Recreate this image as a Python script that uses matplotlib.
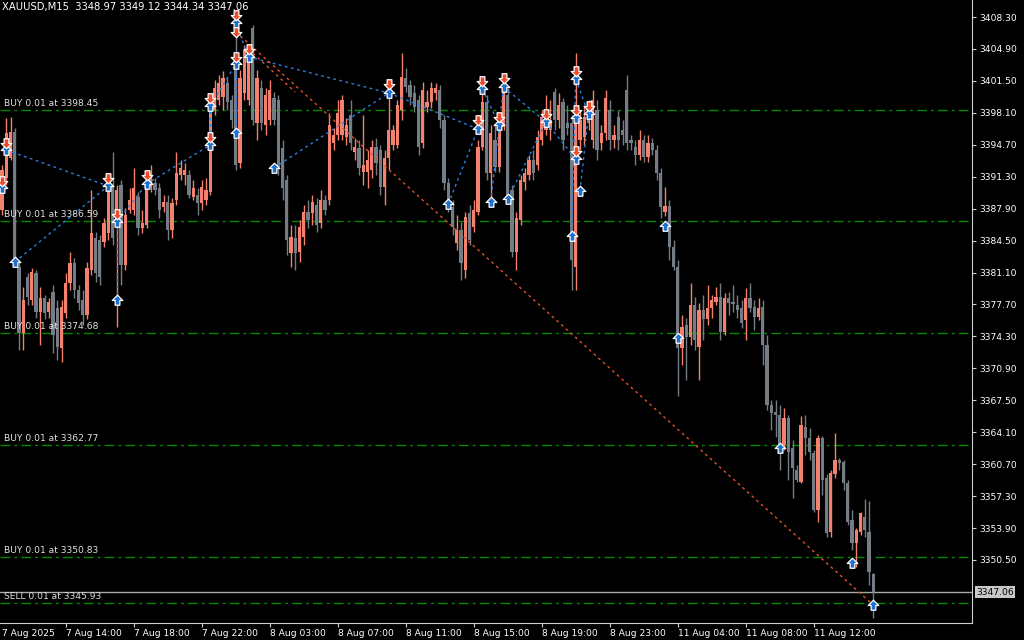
import numpy as np
import matplotlib.pyplot as plt
from matplotlib.path import Path

# XAUUSD M15 bars (open, high, low, close)
opens = [3387.8, 3391.2, 3393.3, 3396.1, 3381.7, 3374.7, 3380.6, 3378.2, 3381.0, 3376.9,
         3378.4, 3376.9, 3379.0, 3377.3, 3373.1, 3376.8, 3380.0, 3382.1, 3379.2, 3378.2,
         3376.6, 3381.4, 3384.8, 3384.6, 3384.4, 3385.3, 3390.4, 3386.4, 3390.4, 3381.9,
         3387.8, 3387.8, 3389.1, 3385.8, 3386.2, 3390.2, 3390.6, 3390.1, 3388.1, 3388.6,
         3385.6, 3388.8, 3391.5, 3391.5, 3391.5, 3389.1, 3389.4, 3388.5, 3388.8, 3389.7,
         3398.4, 3399.5, 3399.8, 3401.3, 3399.5, 3402.7, 3392.8, 3400.2, 3399.5, 3407.1,
         3397.0, 3400.7, 3396.8, 3397.3, 3399.7, 3399.5, 3394.4, 3391.0, 3383.2, 3384.8,
         3383.3, 3384.9, 3387.5, 3387.4, 3388.3, 3386.4, 3388.8, 3388.8, 3394.9, 3395.7,
         3395.7, 3395.5, 3397.9, 3393.9, 3394.4, 3391.8, 3391.8, 3392.0, 3394.5, 3394.1,
         3390.2, 3393.3, 3394.7, 3394.7, 3398.4, 3401.8, 3401.1, 3400.2, 3399.5, 3394.9,
         3398.7, 3399.2, 3400.2, 3400.5, 3397.3, 3390.6, 3388.1, 3384.2, 3385.6, 3381.4,
         3387.4, 3385.9, 3387.5, 3394.5, 3399.3, 3391.7, 3395.2, 3392.3, 3396.6, 3400.0,
         3389.9, 3383.3, 3386.7, 3390.7, 3391.5, 3393.1, 3392.5, 3395.2, 3396.3, 3396.3,
         3400.3, 3397.3, 3399.2, 3397.0, 3397.0, 3381.7, 3395.2, 3395.5, 3397.0, 3395.2,
         3398.4, 3394.9, 3395.9, 3398.4, 3395.2, 3397.7, 3396.3, 3400.5, 3395.2, 3394.5,
         3393.6, 3395.2, 3393.4, 3394.9, 3394.1, 3391.7, 3387.5, 3388.2, 3383.8, 3381.7,
         3373.1, 3375.5, 3374.2, 3377.6, 3373.2, 3377.1, 3376.1, 3377.3, 3378.0, 3378.5,
         3374.8, 3378.4, 3378.0, 3377.6, 3377.3, 3376.0, 3378.4, 3377.4, 3376.4, 3377.4,
         3373.4, 3367.0, 3366.3, 3365.9, 3362.7, 3365.6, 3362.4, 3360.1, 3358.8, 3364.7,
         3363.5, 3361.9, 3355.8, 3363.5, 3359.2, 3353.5, 3359.6, 3361.1, 3360.9, 3358.7,
         3354.8, 3352.3, 3353.5, 3355.1, 3353.5, 3348.97]
highs = [3392.5, 3397.5, 3397.7, 3396.5, 3382.2, 3379.6, 3381.0, 3381.6, 3381.4, 3379.6,
         3378.7, 3378.4, 3379.8, 3378.2, 3378.2, 3381.0, 3383.3, 3382.6, 3379.8, 3379.2,
         3382.2, 3389.9, 3385.4, 3385.1, 3386.9, 3390.6, 3393.9, 3390.4, 3391.0, 3388.0,
         3390.1, 3392.2, 3389.7, 3387.8, 3391.8, 3392.5, 3391.2, 3390.6, 3389.4, 3389.4,
         3389.0, 3393.9, 3393.1, 3392.8, 3392.0, 3391.0, 3390.1, 3391.0, 3391.2, 3400.0,
         3401.6, 3402.1, 3402.5, 3401.8, 3400.0, 3408.8, 3402.7, 3405.3, 3405.3, 3407.5,
         3402.7, 3401.6, 3400.7, 3401.6, 3400.3, 3400.0, 3395.2, 3391.5, 3386.2, 3386.2,
         3386.7, 3388.3, 3388.8, 3389.4, 3389.0, 3389.9, 3389.4, 3398.1, 3396.5, 3399.5,
         3400.0, 3397.6, 3399.5, 3395.4, 3395.2, 3397.9, 3394.1, 3395.2, 3395.4, 3394.7,
         3394.1, 3400.5, 3396.8, 3399.5, 3404.5, 3402.9, 3401.6, 3401.1, 3400.0, 3401.4,
         3400.5, 3401.4, 3401.3, 3401.1, 3397.9, 3391.2, 3388.8, 3387.2, 3386.5, 3387.5,
         3388.3, 3388.8, 3395.2, 3401.9, 3400.0, 3396.8, 3396.8, 3397.9, 3401.9, 3400.7,
         3390.4, 3387.5, 3391.5, 3392.2, 3393.6, 3394.1, 3396.3, 3398.4, 3400.0, 3399.5,
         3400.7, 3400.2, 3399.7, 3398.9, 3397.9, 3404.5, 3398.4, 3398.9, 3399.5, 3400.5,
         3399.5, 3396.8, 3400.5, 3399.5, 3396.8, 3398.4, 3397.3, 3402.1, 3395.7, 3395.2,
         3396.3, 3395.7, 3395.7, 3395.4, 3394.7, 3392.2, 3390.2, 3388.8, 3384.6, 3382.4,
         3376.6, 3376.3, 3380.0, 3378.5, 3377.9, 3378.7, 3379.8, 3378.7, 3379.6, 3380.0,
         3378.9, 3379.0, 3379.8, 3378.7, 3378.2, 3379.4, 3380.0, 3378.2, 3378.4, 3378.2,
         3374.5, 3367.5, 3367.5, 3367.0, 3366.7, 3365.9, 3363.3, 3360.6, 3365.8, 3365.9,
         3364.5, 3362.2, 3363.8, 3363.7, 3359.6, 3360.1, 3364.0, 3361.4, 3361.1, 3359.0,
         3355.8, 3353.9, 3355.6, 3357.0, 3356.8, 3349.12]
lows = [3387.2, 3390.4, 3393.1, 3381.9, 3372.9, 3372.9, 3377.6, 3377.6, 3376.3, 3373.4,
        3376.1, 3376.3, 3372.5, 3371.8, 3371.6, 3376.3, 3379.2, 3378.4, 3377.1, 3375.5,
        3376.1, 3380.8, 3380.1, 3379.8, 3383.8, 3384.6, 3384.0, 3375.3, 3379.8, 3381.4,
        3387.4, 3387.2, 3385.1, 3385.3, 3385.8, 3389.7, 3389.4, 3386.9, 3387.5, 3384.6,
        3384.8, 3388.3, 3391.0, 3390.4, 3389.0, 3388.8, 3387.2, 3387.8, 3388.3, 3389.4,
        3397.9, 3398.9, 3398.4, 3398.4, 3396.5, 3392.0, 3392.2, 3399.5, 3398.9, 3396.8,
        3395.2, 3396.3, 3395.7, 3396.8, 3396.8, 3391.5, 3388.8, 3383.0, 3381.7, 3381.4,
        3382.2, 3384.0, 3385.8, 3386.2, 3385.4, 3385.8, 3387.2, 3388.3, 3394.1, 3395.2,
        3395.2, 3394.7, 3394.1, 3393.1, 3391.5, 3390.4, 3390.1, 3391.2, 3391.5, 3389.4,
        3388.3, 3392.0, 3394.1, 3394.4, 3397.3, 3400.3, 3398.9, 3398.2, 3393.6, 3394.4,
        3398.2, 3398.6, 3399.5, 3396.5, 3389.9, 3387.5, 3385.1, 3383.5, 3380.3, 3380.5,
        3384.0, 3385.4, 3387.2, 3394.1, 3390.9, 3388.5, 3391.8, 3391.8, 3396.3, 3388.8,
        3382.7, 3381.4, 3386.2, 3389.9, 3391.0, 3391.0, 3392.0, 3394.7, 3395.7, 3395.2,
        3396.3, 3396.5, 3394.1, 3395.7, 3379.2, 3379.2, 3394.1, 3394.7, 3396.3, 3394.4,
        3393.1, 3394.1, 3395.2, 3394.1, 3394.4, 3394.1, 3394.7, 3394.1, 3394.1, 3392.5,
        3393.1, 3392.9, 3392.9, 3393.6, 3390.9, 3386.9, 3387.1, 3382.4, 3381.4, 3368.0,
        3371.3, 3369.7, 3373.4, 3372.9, 3369.7, 3373.9, 3375.5, 3376.3, 3377.6, 3373.9,
        3374.5, 3376.6, 3376.9, 3376.3, 3375.2, 3373.9, 3376.9, 3375.0, 3376.0, 3371.3,
        3366.5, 3364.3, 3363.6, 3360.1, 3362.2, 3359.0, 3357.1, 3358.8, 3358.7, 3361.7,
        3361.1, 3355.6, 3354.5, 3357.4, 3352.9, 3352.9, 3359.2, 3360.1, 3357.9, 3354.2,
        3351.6, 3349.7, 3353.2, 3352.9, 3347.8, 3344.34]
closes = [3392.0, 3395.9, 3396.1, 3382.4, 3374.7, 3378.2, 3378.5, 3381.2, 3376.9, 3378.4,
          3376.8, 3378.0, 3374.5, 3373.2, 3377.4, 3380.0, 3382.1, 3379.2, 3377.9, 3376.6,
          3381.6, 3385.3, 3381.0, 3380.6, 3386.4, 3390.4, 3384.8, 3389.9, 3381.9, 3387.2,
          3388.8, 3390.1, 3385.8, 3386.4, 3390.7, 3391.8, 3389.9, 3387.8, 3388.6, 3385.6,
          3388.5, 3391.7, 3392.2, 3392.0, 3389.4, 3390.1, 3388.5, 3390.2, 3389.9, 3399.5,
          3400.7, 3401.3, 3401.8, 3399.2, 3397.3, 3392.5, 3401.8, 3404.8, 3405.0, 3397.3,
          3401.8, 3397.0, 3400.0, 3400.5, 3397.3, 3392.3, 3390.1, 3384.6, 3384.9, 3383.2,
          3385.9, 3387.5, 3386.7, 3388.6, 3386.2, 3388.8, 3387.8, 3396.8, 3395.7, 3398.1,
          3399.5, 3396.8, 3394.9, 3394.5, 3392.2, 3392.5, 3393.1, 3394.5, 3392.8, 3390.2,
          3393.3, 3396.3, 3396.3, 3398.9, 3401.9, 3400.9, 3399.8, 3398.7, 3394.5, 3400.5,
          3399.3, 3400.7, 3400.7, 3397.3, 3390.6, 3388.1, 3385.9, 3385.6, 3382.1, 3387.0,
          3384.6, 3387.8, 3394.5, 3399.3, 3391.7, 3396.0, 3392.3, 3396.6, 3400.5, 3389.1,
          3383.3, 3386.9, 3391.0, 3391.7, 3393.1, 3391.7, 3395.5, 3397.7, 3397.0, 3397.3,
          3397.3, 3398.9, 3395.2, 3396.5, 3382.4, 3397.3, 3397.3, 3397.7, 3398.7, 3399.5,
          3394.1, 3395.9, 3399.7, 3395.2, 3395.7, 3395.2, 3395.7, 3394.9, 3394.9, 3393.6,
          3395.2, 3393.4, 3394.9, 3394.1, 3391.7, 3388.1, 3388.2, 3383.8, 3381.7, 3373.1,
          3375.3, 3374.2, 3377.6, 3373.9, 3377.1, 3376.1, 3377.3, 3378.2, 3378.5, 3374.8,
          3378.4, 3377.9, 3377.7, 3377.1, 3375.7, 3378.4, 3377.3, 3376.4, 3377.3, 3373.4,
          3367.0, 3366.1, 3365.9, 3362.7, 3365.6, 3362.0, 3360.3, 3359.0, 3364.9, 3363.5,
          3362.0, 3355.8, 3363.5, 3359.0, 3353.4, 3359.8, 3361.1, 3360.8, 3358.7, 3354.5,
          3352.3, 3353.7, 3355.5, 3353.7, 3349.2, 3347.06]

# trade arrows (bar index, price)
buy_idx = [0, 1, 3, 25, 27, 27, 34, 49, 49, 55, 55, 55, 58, 64, 91, 105, 112, 113, 115,
           117, 118, 119, 128, 134, 135, 135, 135, 136, 138, 156, 159, 183, 200, 205]
buy_px = [3390.10, 3394.14, 3382.22, 3390.31, 3386.48, 3378.18, 3390.52, 3398.83, 3394.68,
          3407.66, 3403.30, 3395.95, 3404.04, 3392.23, 3400.21, 3388.39, 3396.38, 3400.64,
          3388.61, 3396.80, 3400.85, 3388.93, 3397.12, 3384.99, 3401.70, 3397.55, 3393.18,
          3389.78, 3397.97, 3386.05, 3374.13, 3362.42, 3350.18, 3345.71]
sell_idx = [0, 1, 25, 27, 34, 49, 49, 55, 55, 55, 58, 91, 112, 113, 117, 118, 128, 135,
            135, 135, 138]
sell_px = [3390.84, 3394.89, 3391.16, 3387.33, 3391.48, 3399.68, 3395.53, 3408.51, 3406.70,
           3404.04, 3404.89, 3401.17, 3397.34, 3401.49, 3397.66, 3401.81, 3397.97, 3402.55,
           3398.40, 3394.04, 3398.83]

# dotted links between deals: (i1, p1, i2, p2)
blue_links = [(1, 3394.14, 25, 3390.31), (3, 3382.22, 25, 3390.31),
              (27, 3378.18, 27, 3386.48), (27, 3386.48, 34, 3390.52),
              (34, 3390.52, 49, 3394.68), (49, 3394.68, 49, 3398.83),
              (49, 3398.83, 55, 3403.30), (55, 3403.30, 55, 3395.95),
              (55, 3407.66, 58, 3404.04), (58, 3404.04, 91, 3400.21),
              (64, 3392.23, 91, 3400.21), (91, 3400.21, 112, 3396.38),
              (105, 3388.39, 112, 3396.38), (113, 3400.64, 117, 3396.80),
              (115, 3388.61, 118, 3400.85), (118, 3400.85, 128, 3397.12),
              (119, 3388.93, 128, 3397.12), (128, 3397.12, 135, 3393.18),
              (134, 3384.99, 135, 3401.70), (135, 3401.70, 138, 3397.97),
              (136, 3389.78, 138, 3397.97)]
red_links = [(55, 3406.70, 205, 3345.71), (58, 3404.89, 69, 3400.3)]

order_sides = ['BUY', 'BUY', 'BUY', 'BUY', 'BUY', 'SELL']
order_prices = [3398.45, 3386.59, 3374.68, 3362.77, 3350.83, 3345.93]
last_price = 3347.06

price_ticks = [3408.30, 3404.90, 3401.50, 3398.10, 3394.70, 3391.30, 3387.90, 3384.50, 3381.10,
               3377.70, 3374.30, 3370.90, 3367.50, 3364.10, 3360.70, 3357.30, 3353.90, 3350.50]
time_idx = [15, 31, 47, 63, 79, 95, 111, 127, 143, 159, 175, 191]
time_labels = ['7 Aug 14:00', '7 Aug 18:00', '7 Aug 22:00', '8 Aug 03:00', '8 Aug 07:00',
               '8 Aug 11:00', '8 Aug 15:00', '8 Aug 19:00', '8 Aug 23:00', '11 Aug 04:00',
               '11 Aug 08:00', '11 Aug 12:00']

fig = plt.figure(figsize=(10.24, 6.4), dpi=100, facecolor='black')
ax = fig.add_axes([0, 17 / 640, 972 / 1024, 623 / 640], facecolor='black')

o = np.array(opens)
h = np.array(highs)
l = np.array(lows)
c = np.array(closes)
x = np.arange(len(c))
cols = np.where(c >= o, '#F4806E', '#747C86')

# order levels + last price line
for side, p in zip(order_sides, order_prices):
    ax.axhline(p, color='#008A00', lw=1, ls=(0, (7, 3, 2, 3)), zorder=1)
    ax.annotate(f'{side} 0.01 at {p:.2f}', xy=(4 / 972, p), xycoords=('axes fraction', 'data'),
                xytext=(0, 1.2), textcoords='offset points', va='bottom', ha='left',
                fontsize=6.6, color='#E0E0E0', zorder=6)
ax.axhline(last_price, color='#A8A8A8', lw=1, zorder=1)

# candles
ax.vlines(x, l, h, colors=cols, lw=1.0, zorder=2)
ax.bar(x, np.maximum(np.abs(c - o), 0.08), bottom=np.minimum(o, c), width=0.72,
       color=cols, lw=0, zorder=3)

# deal links
for i1, p1, i2, p2 in blue_links:
    ax.plot([i1, i2], [p1, p2], color='#2B7FE0', lw=1, ls=(0, (2, 2.5)), zorder=4)
for i1, p1, i2, p2 in red_links:
    ax.plot([i1, i2], [p1, p2], color='#E2502A', lw=1, ls=(0, (2, 2.5)), zorder=4)

# deal arrows
up_arrow = Path([(0, 1), (1, 0), (0.45, 0), (0.45, -0.9), (-0.45, -0.9), (-0.45, 0),
                 (-1, 0), (0, 1)], closed=True)
down_arrow = Path([(0, -1), (1, 0), (0.45, 0), (0.45, 0.9), (-0.45, 0.9), (-0.45, 0),
                   (-1, 0), (0, -1)], closed=True)
ax.plot(buy_idx, buy_px, ls='none', marker=up_arrow, ms=7.6, mfc='#1F6FD0', mec='white',
        mew=0.9, zorder=5)
ax.plot(sell_idx, sell_px, ls='none', marker=down_arrow, ms=7.6, mfc='#EE4B2B', mec='white',
        mew=0.9, zorder=5)

ax.set_xlim(-2 / 4.25, 970 / 4.25)
ax.set_ylim(3343.79, 3410.11)

ax.yaxis.tick_right()
ax.set_yticks(price_ticks)
ax.set_yticklabels([f'{v:.2f}' for v in price_ticks])
ax.tick_params(axis='y', length=3, width=0.8, color='#D0D0D0', labelcolor='white',
               labelsize=6.6, pad=2)
ax.set_xticks(time_idx)
ax.set_xticklabels(time_labels, ha='left')
ax.tick_params(axis='x', length=3, width=0.8, color='#D0D0D0', labelcolor='white',
               labelsize=6.6, pad=1)
ax.text(0, -6 / 623, '7 Aug 2025', transform=ax.get_xaxis_transform(), ha='left',
        va='top', fontsize=6.6, color='white', clip_on=False)

for s in ['left', 'top']:
    ax.spines[s].set_visible(False)
for s in ['right', 'bottom']:
    ax.spines[s].set_color('#D0D0D0')
    ax.spines[s].set_linewidth(0.8)

ax.annotate(f'{last_price:.2f}', xy=(1, last_price), xycoords=('axes fraction', 'data'),
            xytext=(3, 0), textcoords='offset points', va='center', ha='left',
            fontsize=6.6, color='black',
            bbox=dict(boxstyle='square,pad=0.15', fc='#C8C8C8', ec='none'))

fig.text(2 / 1024, 1 - 7 / 640, 'XAUUSD,M15  3348.97 3349.12 3344.34 3347.06',
         va='center', ha='left', fontsize=7.2, color='white')

fig.savefig('out.png', dpi=100, facecolor='black')
